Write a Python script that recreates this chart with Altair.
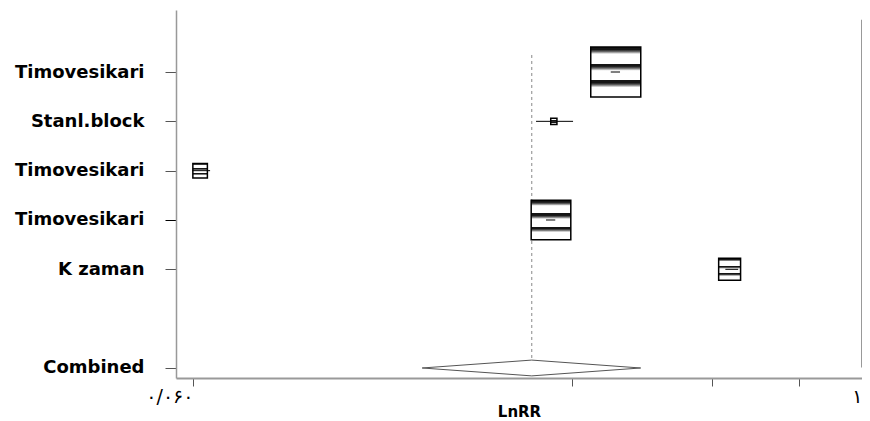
import altair as alt
import pandas as pd

# ---- data ----
study_labels = ["Timovesikari", "Stanl.block", "Timovesikari", "Timovesikari", "K zaman"]
study_rows = [1, 2, 3, 4, 5]
study_est = [0.654, 0.567, 0.070, 0.563, 0.814]
study_lower = [0.647, 0.542, 0.059, 0.556, 0.808]
study_upper = [0.660, 0.594, 0.084, 0.569, 0.826]
study_weight = [52.1, 0.8, 4.4, 32.7, 10.0]

combined_label = "Combined"
combined_row = 7
combined_est = 0.536
combined_lower = 0.382
combined_upper = 0.689

x_ticks = [0.06, 0.592, 0.789, 0.912, 1.0]
x_tick_labels = {0.06: "۰/۰۶۰", 1.0: "۱"}
x_title = "LnRR"

# ---- tables ----
studies = pd.DataFrame({
    "label": study_labels, "row": study_rows, "est": study_est,
    "lower": study_lower, "upper": study_upper, "weight": study_weight,
})
half_h = 0.16
diamond = pd.DataFrame({
    "x": [combined_lower, combined_est, combined_upper, combined_est, combined_lower],
    "y": [combined_row, combined_row - half_h, combined_row, combined_row + half_h, combined_row],
    "order": [0, 1, 2, 3, 4],
})
ref_line = pd.DataFrame({"x": [combined_est], "y": [0.655], "y2": [combined_row - half_h]})
right_line = pd.DataFrame({"x": [x_ticks[-1]], "y": [-0.057], "y2": [6.99]})

all_rows = study_rows + [combined_row]
all_labels = study_labels + [combined_label]
y_expr = "".join(f"datum.value=={r}?'{l}':" for r, l in zip(all_rows, all_labels)) + "''"
x_expr = "".join(f"datum.value=={v}?'{l}':" for v, l in x_tick_labels.items()) + "''"

xscale = alt.Scale(domain=[0.0361, 1.0], nice=False, zero=False)
yscale = alt.Scale(domain=[-0.257, 7.203], reverse=True, nice=False, zero=False)

x_axis = alt.Axis(
    values=x_ticks, labelExpr=x_expr, tickSize=8, tickColor="#555", domainColor="#999",
    domainWidth=2, labelFont="DejaVu Sans", labelFontSize=19, labelColor="black",
    labelAlign="right", labelPadding=1, labelFlush=False, grid=False, title=x_title,
    titleFont="DejaVu Sans", titleFontSize=15, titleFontWeight="bold", titleColor="black",
    titleY=38, titleBaseline="alphabetic",
)
y_axis = alt.Axis(
    values=all_rows, labelExpr=y_expr, tickSize=11,
    tickColor={"condition": {"test": "datum.value == 4", "value": "black"}, "value": "#555"},
    domainColor="#999",
    domainWidth=1.5, labelFont="DejaVu Sans", labelFontWeight="bold", labelFontSize=18,
    labelColor="black", labelPadding=21, labelLimit=200, grid=False, title=None,
)

base_axes = alt.Chart(studies).mark_point(opacity=0).encode(
    x=alt.X("est:Q", scale=xscale, axis=x_axis),
    y=alt.Y("row:Q", scale=yscale, axis=y_axis),
)

right = alt.Chart(right_line).mark_rule(color="#777", strokeWidth=1.5).encode(
    x=alt.X("x:Q", scale=xscale), y=alt.Y("y:Q", scale=yscale), y2="y2:Q"
)

dashed = alt.Chart(ref_line).mark_rule(color="#888", strokeWidth=1, strokeDash=[3, 3]).encode(
    x=alt.X("x:Q", scale=xscale), y=alt.Y("y:Q", scale=yscale), y2="y2:Q"
)

dark, mid, light = "#151515", "#666", "#fff"
stops = []
for k in range(3):
    o = k / 3.0
    stops += [
        alt.GradientStop(offset=o, color=dark),
        alt.GradientStop(offset=o + 0.05, color=dark),
        alt.GradientStop(offset=o + 0.09, color=mid),
        alt.GradientStop(offset=o + 0.14, color=light),
        alt.GradientStop(offset=o + 0.333, color=light),
    ]
pattern = alt.LinearGradient(gradient="linear", x1=0, y1=0, x2=0, y2=1, stops=stops)

boxes = alt.Chart(studies).mark_square(
    fill=pattern, stroke="black", strokeWidth=1.5, opacity=1, fillOpacity=1
).encode(
    x=alt.X("est:Q", scale=xscale),
    y=alt.Y("row:Q", scale=yscale),
    size=alt.Size("weight:Q", scale=alt.Scale(type="linear", domain=[0, 100], range=[0, 4800]), legend=None),
)

ci = alt.Chart(studies).mark_rule(color="black", strokeWidth=1).encode(
    x=alt.X("lower:Q", scale=xscale), x2="upper:Q", y=alt.Y("row:Q", scale=yscale)
)

diam = alt.Chart(diamond).mark_line(color="#555", strokeWidth=1).encode(
    x=alt.X("x:Q", scale=xscale), y=alt.Y("y:Q", scale=yscale), order="order:Q"
)

chart = alt.layer(base_axes, right, dashed, boxes, ci, diam).properties(
    width=686, height=368,
    background="white",
    autosize=alt.AutoSizeParams(type="none"),
    padding={"left": 168, "top": 2, "right": 0, "bottom": 43},
).configure_view(stroke=None)

chart.save("out.html", embed_options={"renderer": "svg", "actions": False})
